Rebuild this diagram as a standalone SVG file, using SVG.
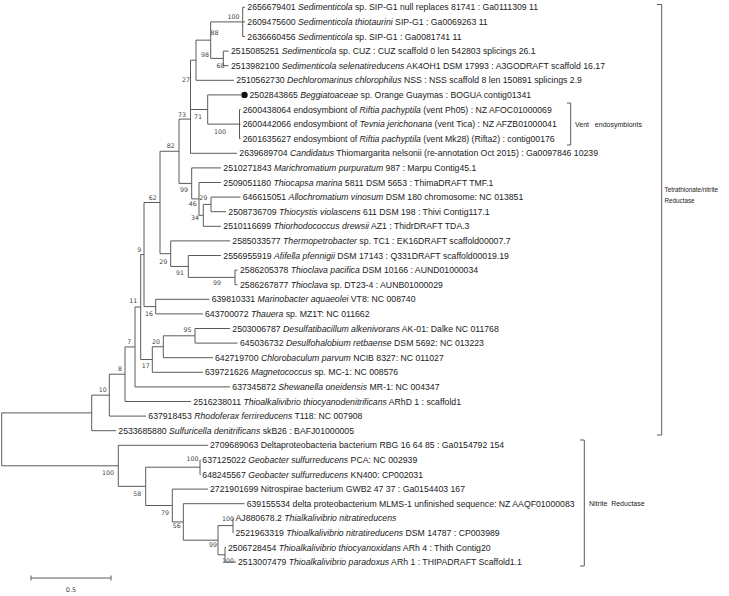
<svg xmlns="http://www.w3.org/2000/svg" width="729" height="596" viewBox="0 0 729 596">
<style>
.t{font-family:"Liberation Sans",Arial,sans-serif;font-size:8.7px;fill:#222}
.i{font-style:italic}
.b{font-family:"DejaVu Sans",sans-serif;font-size:6.3px;fill:#444;text-anchor:middle}
.g{font-family:"Liberation Sans",Arial,sans-serif;font-size:7px;fill:#222}
.ln{stroke:#5a5a5a;stroke-width:1;fill:none}
</style>
<rect width="729" height="596" fill="#fff"/>
<g id="connectors" class="ln">
<path d="M1.7 412.9V465.8M1.7 412.9H91.7M1.7 465.8H118.3"/>
<path d="M242.7 7.3V36.5M210.7 21.9H242.7M223.3 51.1V65.7M210.7 58.4H223.3M210.7 21.9V58.4M196 40.15H210.7M196 40.15V80.3M190.5 60.2H196"/>
<path d="M239.5 109.5V138.7M207.7 124.1H239.5M207.7 94.9V124.1M190.5 109.5H207.7M190.5 60.2V153.3M179 119.1H190.5"/>
<path d="M211 197.1V211.7M203.3 204.4H211M203.3 204.4V226.3M199 215.35H203.3M199 182.5V215.35M191.7 198.9H199M191.7 167.9V198.9M179 183.4H191.7M179 119.1V183.4M160 151.25H179"/>
<path d="M235 270.1V284.7M188.3 277.4H235M188.3 255.5V277.4M170.7 266.45H188.3M170.7 240.9V266.45M160 253.7H170.7M160 151.25V253.7M144 202.5H160"/>
<path d="M155.7 299.3V313.9M144 306.6H155.7M144 202.5V306.6M140.7 254.55H144"/>
<path d="M195 328.5V343.1M163.3 335.8H195M163.3 335.8V357.7M152.3 346.75H163.3M152.3 346.75V372.3M140.7 359.5H152.3M140.7 254.55V359.5M135 307H140.7M135 307V386.9M125 346.95H135M125 346.95V401.5M109.3 374.2H125M109.3 374.2V416.1M91.7 395.15H109.3M91.7 395.15V430.7"/>
<path d="M118.3 445.3V486.35M145.7 467.2V505.5M118.3 486.35H145.7M200 459.9V474.5M145.7 467.2H200M172.3 489.1V521.95M145.7 505.5H172.3M183.3 503.7V540.2M172.3 521.95H183.3M218 525.6V554.8M183.3 540.2H218M233 518.3V532.9M218 525.6H233M225 547.5V562.1M218 554.8H225"/>
<path d="M242.7 7.3H245M242.7 21.9H245M242.7 36.5H245M223.3 51.1H228.5M223.3 65.7H228.5M196 80.3H234M207.7 94.9H241M239.5 109.5H240.5M239.5 124.1H240.5M239.5 138.7H240.5M190.5 153.3H237M191.7 167.9H221M199 182.5H221M211 197.1H240.5M211 211.7H226M203.3 226.3H221M170.7 240.9H230M188.3 255.5H221M235 270.1H237.5M235 284.7H237.5M155.7 299.3H209.5M155.7 313.9H203M195 328.5H230M195 343.1H237.5M163.3 357.7H213M152.3 372.3H203M135 386.9H230M125 401.5H191M109.3 416.1H146M91.7 430.7H116M118.3 445.3H208M200 459.9H200.5M200 474.5H200.5M172.3 489.1H208M183.3 503.7H244.5M233 518.3H233.5M233 532.9H233.5M225 547.5H226M225 562.1H236"/>
</g>
<g id="bootstrap">
<text class="b" x="233.5" y="19">100</text>
<text class="b" x="214.5" y="35">88</text>
<text class="b" x="220.5" y="68">68</text>
<text class="b" x="205" y="57">98</text>
<text class="b" x="186" y="82">27</text>
<text class="b" x="198" y="119">71</text>
<text class="b" x="182" y="117">73</text>
<text class="b" x="220" y="134">100</text>
<text class="b" x="170.7" y="148">82</text>
<text class="b" x="184" y="192">99</text>
<text class="b" x="192.7" y="206">46</text>
<text class="b" x="203.3" y="200">29</text>
<text class="b" x="195" y="220">34</text>
<text class="b" x="180" y="275">91</text>
<text class="b" x="217" y="285">99</text>
<text class="b" x="163.3" y="264">29</text>
<text class="b" x="152.7" y="200">62</text>
<text class="b" x="139.3" y="252">9</text>
<text class="b" x="149" y="316">16</text>
<text class="b" x="187.5" y="332">95</text>
<text class="b" x="156" y="344">20</text>
<text class="b" x="145.7" y="368">17</text>
<text class="b" x="133.3" y="303">11</text>
<text class="b" x="129.3" y="344">7</text>
<text class="b" x="120" y="371">8</text>
<text class="b" x="102.7" y="392">10</text>
<text class="b" x="108" y="475">100</text>
<text class="b" x="137.3" y="496">58</text>
<text class="b" x="165" y="515">79</text>
<text class="b" x="176.7" y="528">56</text>
<text class="b" x="192.5" y="461">100</text>
<text class="b" x="228" y="521">100</text>
<text class="b" x="213" y="547">99</text>
<text class="b" x="228" y="563">100</text>
</g>
<g id="leaf0"><text class="t" x="247.3" y="10.4">2656679401 <tspan class="i">Sedimenticola</tspan> sp. SIP-G1 null replaces 81741 : Ga0111309 11</text></g>
<g id="leaf1"><text class="t" x="247.3" y="25">2609475600 <tspan class="i">Sedimenticola thiotaurini</tspan> SIP-G1 : Ga0069263 11</text></g>
<g id="leaf2"><text class="t" x="247.3" y="39.6">2636660456 <tspan class="i">Sedimenticola</tspan> sp. SIP-G1 : Ga0081741 11</text></g>
<g id="leaf3"><text class="t" x="231" y="54.2">2515085251 <tspan class="i">Sedimenticola</tspan> sp. CUZ : CUZ scaffold 0 len 542803 splicings 26.1</text></g>
<g id="leaf4"><text class="t" x="231" y="68.8">2513982100 <tspan class="i">Sedimenticola selenatireducens</tspan> AK4OH1 DSM 17993 : A3GODRAFT scaffold 16.17</text></g>
<g id="leaf5"><text class="t" x="236.3" y="83.4">2510562730 <tspan class="i">Dechloromarinus chlorophilus</tspan> NSS : NSS scaffold 8 len 150891 splicings 2.9</text></g>
<g id="leaf6"><circle cx="244.5" cy="94.9" r="3.2" fill="#111"/><text class="t" x="249.5" y="98">2502843865 <tspan class="i">Beggiatoaceae</tspan> sp. Orange Guaymas : BOGUA contig01341</text></g>
<g id="leaf7"><text class="t" x="242.7" y="112.6">2600438064 endosymbiont of <tspan class="i">Riftia pachyptila</tspan> (vent Ph05) : NZ AFOC01000069</text></g>
<g id="leaf8"><text class="t" x="242.7" y="127.2">2600442066 endosymbiont of <tspan class="i">Tevnia jerichonana</tspan> (vent Tica) : NZ AFZB01000041</text></g>
<g id="leaf9"><text class="t" x="242.7" y="141.8">2601635627 endosymbiont of <tspan class="i">Riftia pachyptila</tspan> (vent Mk28) (Rifta2) : contig00176</text></g>
<g id="leaf10"><text class="t" x="239.3" y="156.4">2639689704 <tspan class="i">Candidatus</tspan> Thiomargarita nelsonii (re-annotation Oct 2015) : Ga0097846 10239</text></g>
<g id="leaf11"><text class="t" x="223.3" y="171">2510271843 <tspan class="i">Marichromatium purpuratum</tspan> 987 : Marpu Contig45.1</text></g>
<g id="leaf12"><text class="t" x="223.3" y="185.6">2509051180 <tspan class="i">Thiocapsa marina</tspan> 5811 DSM 5653 : ThimaDRAFT TMF.1</text></g>
<g id="leaf13"><text class="t" x="242.7" y="200.2">646615051 <tspan class="i">Allochromatium vinosum</tspan> DSM 180 chromosome: NC 013851</text></g>
<g id="leaf14"><text class="t" x="228.3" y="214.8">2508736709 <tspan class="i">Thiocystis violascens</tspan> 611 DSM 198 : Thivi Contig117.1</text></g>
<g id="leaf15"><text class="t" x="223.3" y="229.4">2510116699 <tspan class="i">Thiorhodococcus drewsii</tspan> AZ1 : ThidrDRAFT TDA.3</text></g>
<g id="leaf16"><text class="t" x="232.3" y="244">2585033577 <tspan class="i">Thermopetrobacter</tspan> sp. TC1 : EK16DRAFT scaffold00007.7</text></g>
<g id="leaf17"><text class="t" x="223.3" y="258.6">2556955919 <tspan class="i">Afifella pfennigii</tspan> DSM 17143 : Q331DRAFT scaffold00019.19</text></g>
<g id="leaf18"><text class="t" x="240" y="273.2">2586205378 <tspan class="i">Thioclava pacifica</tspan> DSM 10166 : AUND01000034</text></g>
<g id="leaf19"><text class="t" x="240" y="287.8">2586267877 <tspan class="i">Thioclava</tspan> sp. DT23-4 : AUNB01000029</text></g>
<g id="leaf20"><text class="t" x="211.7" y="302.4">639810331 <tspan class="i">Marinobacter aquaeolei</tspan> VT8: NC 008740</text></g>
<g id="leaf21"><text class="t" x="205" y="317">643700072 <tspan class="i">Thauera</tspan> sp. MZ1T: NC 011662</text></g>
<g id="leaf22"><text class="t" x="232.3" y="331.6">2503006787 <tspan class="i">Desulfatibacillum alkenivorans</tspan> AK-01: Dalke NC 011768</text></g>
<g id="leaf23"><text class="t" x="240" y="346.2">645036732 <tspan class="i">Desulfohalobium retbaense</tspan> DSM 5692: NC 013223</text></g>
<g id="leaf24"><text class="t" x="215" y="360.8">642719700 <tspan class="i">Chlorobaculum parvum</tspan> NCIB 8327: NC 011027</text></g>
<g id="leaf25"><text class="t" x="205" y="375.4">639721626 <tspan class="i">Magnetococcus</tspan> sp. MC-1: NC 008576</text></g>
<g id="leaf26"><text class="t" x="232.3" y="390">637345872 <tspan class="i">Shewanella oneidensis</tspan> MR-1: NC 004347</text></g>
<g id="leaf27"><text class="t" x="193.3" y="404.6">2516238011 <tspan class="i">Thioalkalivibrio thiocyanodenitrificans</tspan> ARhD 1 : scaffold1</text></g>
<g id="leaf28"><text class="t" x="148.3" y="419.2">637918453 <tspan class="i">Rhodoferax ferrireducens</tspan> T118: NC 007908</text></g>
<g id="leaf29"><text class="t" x="118.3" y="433.8">2533685880 <tspan class="i">Sulfuricella denitrificans</tspan> skB26 : BAFJ01000005</text></g>
<g id="leaf30"><text class="t" x="210" y="448.4">2709689063 Deltaproteobacteria bacterium RBG 16 64 85 : Ga0154792 154</text></g>
<g id="leaf31"><text class="t" x="202.3" y="463">637125022 <tspan class="i">Geobacter sulfurreducens</tspan> PCA: NC 002939</text></g>
<g id="leaf32"><text class="t" x="202.3" y="477.6">648245567 <tspan class="i">Geobacter sulfurreducens</tspan> KN400: CP002031</text></g>
<g id="leaf33"><text class="t" x="210" y="492.2">2721901699 Nitrospirae bacterium GWB2 47 37 : Ga0154403 167</text></g>
<g id="leaf34"><text class="t" x="246.7" y="506.8">639155534 delta proteobacterium MLMS-1 unfinished sequence: NZ AAQF01000083</text></g>
<g id="leaf35"><text class="t" x="235.5" y="521.4">AJ880678.2 <tspan class="i">Thialkalivibrio nitratireducens</tspan></text></g>
<g id="leaf36"><text class="t" x="235.5" y="536">2521963319 <tspan class="i">Thioalkalivibrio nitratireducens</tspan> DSM 14787 : CP003989</text></g>
<g id="leaf37"><text class="t" x="228" y="550.6">2506728454 <tspan class="i">Thioalkalivibrio thiocyanoxidans</tspan> ARh 4 : Thith Contig20</text></g>
<g id="leaf38"><text class="t" x="238" y="565.2">2513007479 <tspan class="i">Thioalkalivibrio paradoxus</tspan> ARh 1 : THIPADRAFT Scaffold1.1</text></g>
<g id="bracket-tetrathionate"><path class="ln" d="M657 4.5H661.7V435H657"/><text class="g" x="664.5" y="192" style="font-size:6.3px">Tetrathionate/nitrite</text><text class="g" x="664.5" y="203" style="font-size:6.3px">Reductase</text></g>
<g id="bracket-vent"><path class="ln" d="M567 103H570.7V145H567"/><text class="g" x="575" y="126.5">Vent&#160;&#160; endosymbionts</text></g>
<g id="bracket-nitrite"><path class="ln" d="M580 440H584.3V566H580"/><text class="g" x="589" y="505.5">Nitrite&#160; Reductase</text></g>
<g id="scale"><path class="ln" d="M31 578H111M31 575.5V580.5M111 575.5V580.5"/><text class="b" x="71" y="592" style="font-size:6.5px">0.5</text></g>
</svg>
